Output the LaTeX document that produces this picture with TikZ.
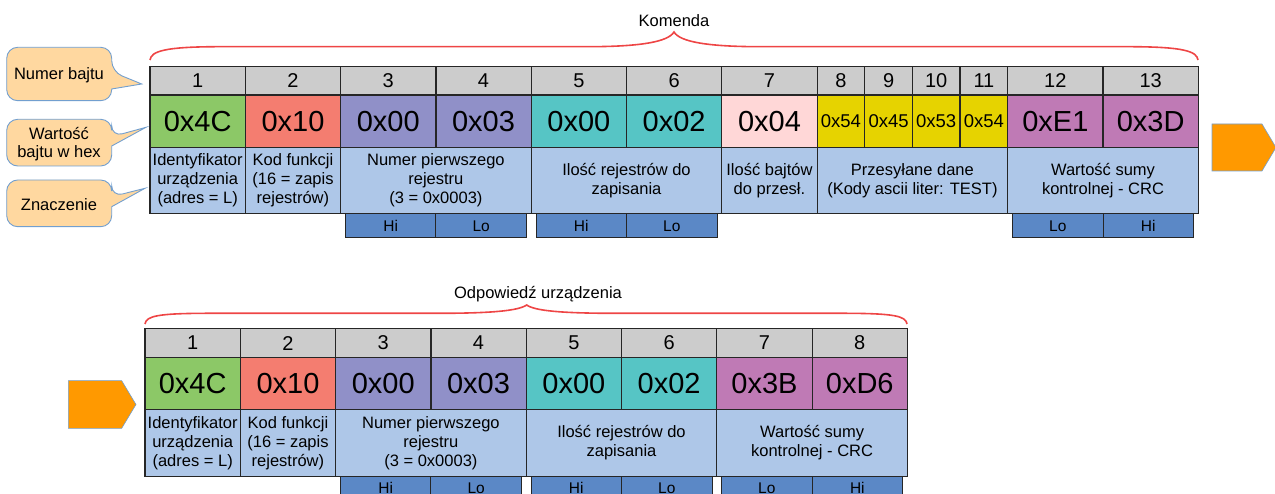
\documentclass[tikz,border=0pt]{standalone}
\usepackage{fontspec}
\setmainfont{Liberation Sans}
\usepackage{tikz}
\usetikzlibrary{positioning}

\definecolor{idgreen}{HTML}{8CC867}
\definecolor{funred}{HTML}{F47D70}
\definecolor{regpurple}{HTML}{9090C8}
\definecolor{cntteal}{HTML}{56C5C5}
\definecolor{bytepink}{HTML}{FFD7D7}
\definecolor{datayellow}{HTML}{E6D300}
\definecolor{crcmagenta}{HTML}{BF7AB5}
\definecolor{descblue}{HTML}{AEC7E8}
\definecolor{hiloblue}{HTML}{5B88C6}
\definecolor{calloutfill}{HTML}{FFD8A0}
\definecolor{calloutline}{HTML}{729FCF}
\definecolor{arroworange}{HTML}{FF9900}
\definecolor{bracered}{HTML}{EE4545}

\begin{document}
\begin{tikzpicture}[x=1pt,y=-1pt,
  cell/.style={draw=black!85,line width=1.2pt,inner sep=0pt,outer sep=0pt,minimum width=95.3pt},
  half/.style={cell,minimum width=47.65pt},
  wide/.style={cell,minimum width=190.6pt,anchor=north west},
  numrow/.style={fill=gray!40,minimum height=28.7pt,font=\fontsize{20}{24}\selectfont},
  hexrow/.style={minimum height=52.3pt,font=\fontsize{29}{34}\selectfont},
  smallhex/.style={fill=datayellow,minimum height=52.3pt,font=\fontsize{18.5}{22}\selectfont},
  descrow/.style={fill=descblue,minimum height=66.6pt,align=center,font=\fontsize{16.5}{19}\selectfont},
  hilo/.style={draw=black!85,line width=1pt,fill=hiloblue,inner sep=0pt,outer sep=0pt,minimum width=90.5pt,minimum height=24pt,font=\fontsize{15.5}{18}\selectfont},
  note/.style={align=center,font=\fontsize{16.5}{18.5}\selectfont},
  callout/.style={draw=calloutline,line width=0.9pt,fill=calloutfill},
  pointer/.style={draw=calloutline,line width=0.6pt,fill=arroworange},
  brace/.style={draw=bracered,line width=1.6pt}]
  \useasboundingbox (0,0) rectangle (1275,494);

  %komenda
  \node[cell,numrow,anchor=north west] (k1) at (150,66.3) {1};
  \node[cell,numrow,right=0pt of k1] (k2) {2};
  \node[cell,numrow,right=0pt of k2] (k3) {3};
  \node[cell,numrow,right=0pt of k3] (k4) {4};
  \node[cell,numrow,right=0pt of k4] (k5) {5};
  \node[cell,numrow,right=0pt of k5] (k6) {6};
  \node[cell,numrow,right=0pt of k6] (k7) {7};
  \node[half,numrow,right=0pt of k7] (k8) {8};
  \node[half,numrow,right=0pt of k8] (k9) {9};
  \node[half,numrow,right=0pt of k9] (k10) {10};
  \node[half,numrow,right=0pt of k10] (k11) {11};
  \node[cell,numrow,right=0pt of k11] (k12) {12};
  \node[cell,numrow,right=0pt of k12] (k13) {13};

  \node[cell,hexrow,fill=idgreen,below=0pt of k1] (kx1) {0x4C};
  \node[cell,hexrow,fill=funred,below=0pt of k2] (kx2) {0x10};
  \node[cell,hexrow,fill=regpurple,below=0pt of k3] (kx3) {0x00};
  \node[cell,hexrow,fill=regpurple,below=0pt of k4] (kx4) {0x03};
  \node[cell,hexrow,fill=cntteal,below=0pt of k5] (kx5) {0x00};
  \node[cell,hexrow,fill=cntteal,below=0pt of k6] (kx6) {0x02};
  \node[cell,hexrow,fill=bytepink,below=0pt of k7] (kx7) {0x04};
  \node[half,smallhex,below=0pt of k8] (kx8) {0x54};
  \node[half,smallhex,below=0pt of k9] (kx9) {0x45};
  \node[half,smallhex,below=0pt of k10] (kx10) {0x53};
  \node[half,smallhex,below=0pt of k11] (kx11) {0x54};
  \node[cell,hexrow,fill=crcmagenta,below=0pt of k12] (kx12) {0xE1};
  \node[cell,hexrow,fill=crcmagenta,below=0pt of k13] (kx13) {0x3D};

  \node[cell,descrow,below=0pt of kx1] (kd1) {Identyfikator\\urządzenia\\(adres = L)};
  \node[cell,descrow,below=0pt of kx2] (kd2) {Kod funkcji\\(16 = zapis\\rejestrów)};
  \node[wide,descrow] (kd3) at (kx3.south west) {Numer pierwszego\\rejestru\\(3 = 0x0003)};
  \node[wide,descrow] (kd5) at (kx5.south west) {Ilość rejestrów do\\zapisania};
  \node[cell,descrow,below=0pt of kx7] (kd7) {Ilość bajtów\\do przesł.};
  \node[wide,descrow] (kd8) at (kx8.south west) {Przesyłane dane\\(Kody ascii liter: TEST)};
  \node[wide,descrow] (kd12) at (kx12.south west) {Wartość sumy\\kontrolnej - CRC};

  \node[hilo,anchor=north east] (kh3) at (kd3.south) {Hi};
  \node[hilo,anchor=north west] (kl4) at (kd3.south) {Lo};
  \node[hilo,anchor=north east] (kh5) at (kd5.south) {Hi};
  \node[hilo,anchor=north west] (kl6) at (kd5.south) {Lo};
  \node[hilo,anchor=north east] (kl12) at (kd12.south) {Lo};
  \node[hilo,anchor=north west] (kh13) at (kd12.south) {Hi};

  \draw[brace] (150,60) .. controls (151,51) and (166,47) .. (215,46.7) -- (590,46.7) .. controls (640,46.5) and (668,42) .. (674,32) .. controls (680,42) and (708,46.5) .. (758,46.7) -- (1133,46.7) .. controls (1182,47) and (1197,51) .. (1198,60);
  \node[note] (komenda) at (674,20.7) {Komenda};
  \draw[pointer] (1212,124) -- (1262,124) -- (1276,147.5) -- (1262,171) -- (1212,171) -- cycle;

  %odpowiedz
  \node[cell,numrow,anchor=north west] (o1) at (145,328.7) {1};
  \node[cell,numrow,right=0pt of o1] (o2) {2};
  \node[cell,numrow,right=0pt of o2] (o3) {3};
  \node[cell,numrow,right=0pt of o3] (o4) {4};
  \node[cell,numrow,right=0pt of o4] (o5) {5};
  \node[cell,numrow,right=0pt of o5] (o6) {6};
  \node[cell,numrow,right=0pt of o6] (o7) {7};
  \node[cell,numrow,right=0pt of o7] (o8) {8};

  \node[cell,hexrow,fill=idgreen,below=0pt of o1] (ox1) {0x4C};
  \node[cell,hexrow,fill=funred,below=0pt of o2] (ox2) {0x10};
  \node[cell,hexrow,fill=regpurple,below=0pt of o3] (ox3) {0x00};
  \node[cell,hexrow,fill=regpurple,below=0pt of o4] (ox4) {0x03};
  \node[cell,hexrow,fill=cntteal,below=0pt of o5] (ox5) {0x00};
  \node[cell,hexrow,fill=cntteal,below=0pt of o6] (ox6) {0x02};
  \node[cell,hexrow,fill=crcmagenta,below=0pt of o7] (ox7) {0x3B};
  \node[cell,hexrow,fill=crcmagenta,below=0pt of o8] (ox8) {0xD6};

  \node[cell,descrow,below=0pt of ox1] (od1) {Identyfikator\\urządzenia\\(adres = L)};
  \node[cell,descrow,below=0pt of ox2] (od2) {Kod funkcji\\(16 = zapis\\rejestrów)};
  \node[wide,descrow] (od3) at (ox3.south west) {Numer pierwszego\\rejestru\\(3 = 0x0003)};
  \node[wide,descrow] (od5) at (ox5.south west) {Ilość rejestrów do\\zapisania};
  \node[wide,descrow] (od7) at (ox7.south west) {Wartość sumy\\kontrolnej - CRC};

  \node[hilo,anchor=north east] (oh3) at (od3.south) {Hi};
  \node[hilo,anchor=north west] (ol4) at (od3.south) {Lo};
  \node[hilo,anchor=north east] (oh5) at (od5.south) {Hi};
  \node[hilo,anchor=north west] (ol6) at (od5.south) {Lo};
  \node[hilo,anchor=north east] (ol7) at (od7.south) {Lo};
  \node[hilo,anchor=north west] (oh8) at (od7.south) {Hi};

  \draw[brace] (145,324) .. controls (146,316) and (158,313.5) .. (205,313.3) -- (446,313.3) .. controls (490,313) and (518,311) .. (526.7,305) .. controls (535,311) and (563,313) .. (607,313.3) -- (847,313.3) .. controls (894,313.5) and (906,316) .. (907,324);
  \node[note] (odp) at (538,294) {Odpowiedź urządzenia};
  \draw[pointer] (68.3,380.7) -- (121.7,380.7) -- (136,404.5) -- (121.7,428.3) -- (68.3,428.3) -- cycle;

  %legenda
  \draw[callout,rounded corners=11pt] (60,47.3) -- (111.7,47.3) -- (111.7,71.7) [sharp corners] -- (141.7,84) -- (111.7,89) [rounded corners=11pt] -- (111.7,100.7) -- (6.7,100.7) -- (6.7,47.3) -- cycle;
  \draw[callout,rounded corners=11pt] (60,119.3) -- (111.7,119.3) -- (111.7,136.7) [sharp corners] -- (146,127.3) -- (111.7,146) [rounded corners=11pt] -- (111.7,166) -- (6.7,166) -- (6.7,119.3) -- cycle;
  \draw[callout,rounded corners=11pt] (60,180) -- (111.7,180) -- (111.7,196.7) [sharp corners] -- (145,188.3) -- (111.7,206.7) [rounded corners=11pt] -- (111.7,226.7) -- (6.7,226.7) -- (6.7,180) -- cycle;
  \node[note] (numer) at (59,75) {Numer bajtu};
  \node[note] (wartosc) at (59,144) {Wartość\\bajtu w hex};
  \node[note] (znaczenie) at (59,205) {Znaczenie};
\end{tikzpicture}
\end{document}
